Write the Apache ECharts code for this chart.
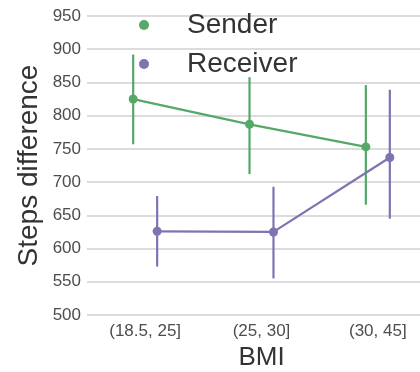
<!DOCTYPE html>
<html>
<head>
<meta charset="utf-8">
<script src="https://cdn.jsdelivr.net/npm/echarts@6/dist/echarts.min.js"></script>
<style>html,body{margin:0;padding:0;background:#fff}#c{width:420px;height:372px}</style>
</head>
<body>
<div id="c"></div>
<script>
var categories = ['(18.5, 25]', '(25, 30]', '(30, 45]'];
var senderMean = [825, 787, 753];
var senderLow  = [757, 712, 666];
var senderHigh = [892, 858, 846];
var receiverMean = [626, 625, 737];
var receiverLow  = [573, 555, 645];
var receiverHigh = [679, 693, 839];
var yTicks = [500, 550, 600, 650, 700, 750, 800, 850, 900, 950];

var GREEN = '#55a868', PURPLE = '#8172b2';
var DODGE = 0.103;

function pts(vals, off) { return vals.map(function (v, i) { return [i + off, v]; }); }
function bars(lo, hi, off) { return lo.map(function (v, i) { return [i + off, v, hi[i]]; }); }
function errRender(color) {
  return function (params, api) {
    var a = api.coord([api.value(0), api.value(1)]);
    var b = api.coord([api.value(0), api.value(2)]);
    return { type: 'line', shape: { x1: a[0], y1: a[1], x2: b[0], y2: b[1] },
             style: { stroke: color, lineWidth: 2.2 } };
  };
}

var chart = echarts.init(document.getElementById('c'), null, { renderer: 'canvas' });
chart.setOption({
  animation: false,
  textStyle: { fontFamily: '"Liberation Sans", Arial, sans-serif' },
  grid: { left: 87, right: -16, top: 16, bottom: 57, containLabel: false, outerBoundsMode: 'none' },
  legend: {
    left: 134, top: 6, orient: 'vertical', itemGap: 11,
    icon: 'circle', itemWidth: 10, itemHeight: 10,
    textStyle: { fontSize: 28, color: '#333', padding: [0, 0, 0, 33] },
    data: [{ name: 'Sender', itemStyle: { color: GREEN } }, { name: 'Receiver', itemStyle: { color: PURPLE } }]
  },
  xAxis: [
    { type: 'category', data: categories, boundaryGap: true,
      axisLine: { show: false }, axisTick: { show: false },
      axisLabel: { fontSize: 17, color: '#4d4d4d', margin: 8 },
      name: 'BMI', nameLocation: 'middle', nameGap: 30, nameMoveOverlap: false,
      nameTextStyle: { fontSize: 26, color: '#333' } },
    { type: 'value', min: -0.5, max: 2.5, show: false }
  ],
  yAxis: {
    type: 'value', min: yTicks[0], max: yTicks[yTicks.length - 1], interval: 50,
    axisLine: { show: false }, axisTick: { show: false },
    axisLabel: { fontSize: 17, color: '#4d4d4d', margin: 6 },
    splitLine: { lineStyle: { color: '#dcdcdc', width: 2 } },
    name: 'Steps difference', nameLocation: 'middle', nameGap: 44, nameMoveOverlap: false,
    nameTextStyle: { fontSize: 28, color: '#333' }
  },
  series: [
    { name: 'Sender', type: 'line', xAxisIndex: 1, data: pts(senderMean, -DODGE),
      color: GREEN, lineStyle: { width: 2.2 }, symbol: 'circle', symbolSize: 9, z: 3 },
    { name: 'Receiver', type: 'line', xAxisIndex: 1, data: pts(receiverMean, DODGE),
      color: PURPLE, lineStyle: { width: 2.2 }, symbol: 'circle', symbolSize: 9, z: 3 },
    { type: 'custom', xAxisIndex: 1, data: bars(senderLow, senderHigh, -DODGE),
      renderItem: errRender(GREEN), z: 2 },
    { type: 'custom', xAxisIndex: 1, data: bars(receiverLow, receiverHigh, DODGE),
      renderItem: errRender(PURPLE), z: 2 }
  ]
});
</script>
</body>
</html>
